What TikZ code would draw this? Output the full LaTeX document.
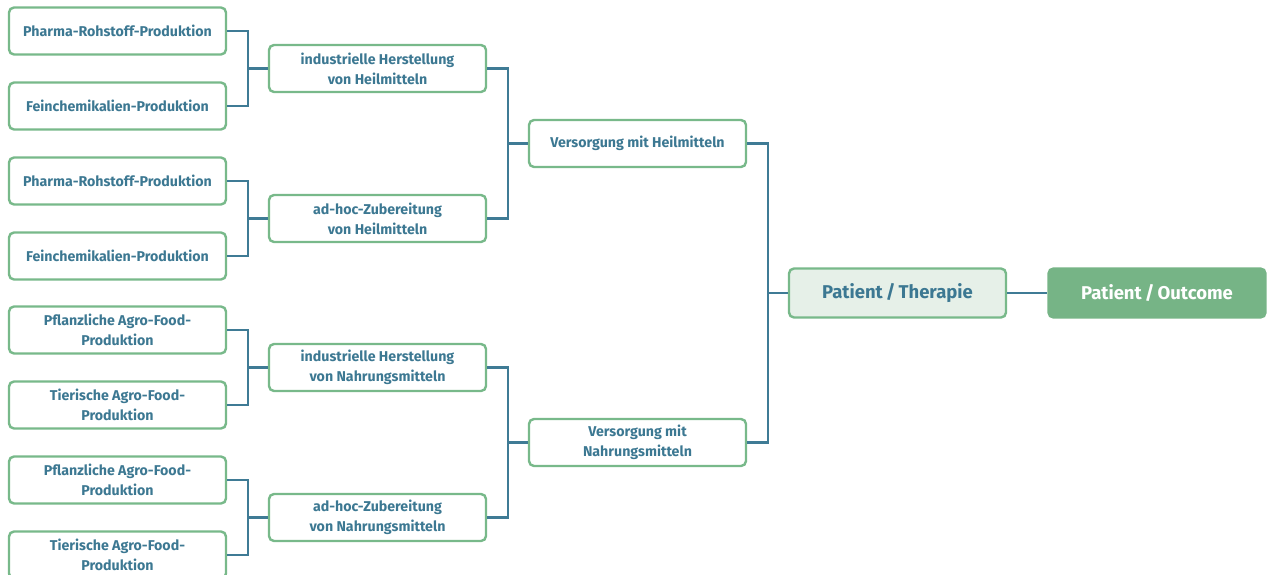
\documentclass[tikz,border=0pt]{standalone}
\usepackage{fontspec}
\setmainfont{Fira Sans}
\begin{document}
\begin{tikzpicture}[x=1pt,y=-1pt,
  box/.style={draw=boxgreen, line width=2.4pt, rounded corners=5pt, fill=white,
    minimum width=217pt, minimum height=47pt, align=center, text=txtblue,
    font=\fontsize{14.2}{20}\selectfont\bfseries, inner sep=2pt},
  conn/.style={draw=linblue, line width=2.4pt},
]
\definecolor{boxgreen}{HTML}{78B98A}
\definecolor{txtblue}{HTML}{3C7892}
\definecolor{linblue}{HTML}{3F7B95}
\definecolor{lightfill}{HTML}{E6F0E8}
\definecolor{darkfill}{HTML}{76B486}
\clip (0,0) rectangle (1271,575);
\useasboundingbox (0,0) rectangle (1271,575);
% leaves
\node[box] (l1) at (117.5,31) {Pharma-Rohstoff-Produktion};
\node[box] (l2) at (117.5,106) {Feinchemikalien-Produktion};
\node[box] (l3) at (117.5,181) {Pharma-Rohstoff-Produktion};
\node[box] (l4) at (117.5,256) {Feinchemikalien-Produktion};
\node[box] (l5) at (117.5,330) {Pflanzliche Agro-Food-\\Produktion};
\node[box] (l6) at (117.5,405) {Tierische Agro-Food-\\Produktion};
\node[box] (l7) at (117.5,480) {Pflanzliche Agro-Food-\\Produktion};
\node[box] (l8) at (117.5,555) {Tierische Agro-Food-\\Produktion};
% level 2
\node[box] (m1) at (377.5,68.5) {industrielle Herstellung\\von Heilmitteln};
\node[box] (m2) at (377.5,218.5) {ad-hoc-Zubereitung\\von Heilmitteln};
\node[box] (m3) at (377.5,367.5) {industrielle Herstellung\\von Nahrungsmitteln};
\node[box] (m4) at (377.5,517.5) {ad-hoc-Zubereitung\\von Nahrungsmitteln};
% level 3
\node[box] (v1) at (637.5,143.5) {Versorgung mit Heilmitteln};
\node[box] (v2) at (637.5,442.5) {Versorgung mit\\Nahrungsmitteln};
% patient
\node[box, fill=lightfill, minimum height=49pt, font=\fontsize{18.5}{22}\selectfont\bfseries] (pt) at (897.5,293) {Patient\,/\,Therapie};
\node[box, draw=darkfill, fill=darkfill, text=white, minimum height=49pt, font=\fontsize{18.5}{22}\selectfont\bfseries] (po) at (1157,293) {Patient\,/\,Outcome};
% connectors
\foreach \a/\b/\m in {l1/l2/m1, l3/l4/m2, l5/l6/m3, l7/l8/m4, m1/m2/v1, m3/m4/v2, v1/v2/pt}{
  \draw[conn] (\a.east) -- ++(21,0) |- (\m.west);
  \draw[conn] (\b.east) -- ++(21,0) |- (\m.west);
}
\draw[conn] (pt.east) -- (po.west);
\end{tikzpicture}
\end{document}
